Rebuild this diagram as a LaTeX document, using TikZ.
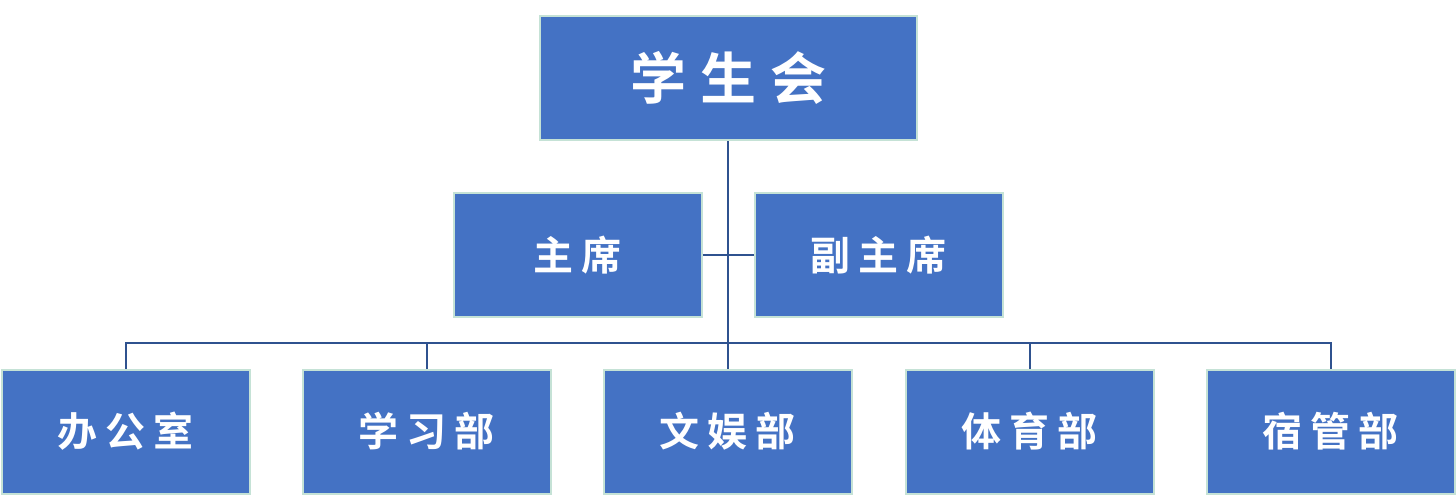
\documentclass[tikz,border=0pt]{standalone}
\usepackage{fontspec}
\newfontfamily\cjk{Noto Sans CJK SC}[BoldFont={Noto Sans CJK SC Bold}]
\definecolor{boxfill}{HTML}{4472C4}
\definecolor{boxedge}{HTML}{C5E2D6}
\definecolor{linkcol}{HTML}{2F528F}
\newcommand{\gap}{\hspace{8pt}}
\begin{document}
\begin{tikzpicture}[x=1pt,y=-1pt,
  orgbox/.style={draw=boxedge, line width=2pt, fill=boxfill, text=white,
    minimum width=248pt, minimum height=124pt, inner sep=0pt,
    font=\cjk\bfseries\fontsize{40}{44}\selectfont},
  topbox/.style={orgbox, minimum width=377pt,
    font=\cjk\bfseries\fontsize{56}{60}\selectfont},
  link/.style={draw=linkcol, line width=2pt}]
\useasboundingbox (0,0) rectangle (1456,503);
\node[topbox] (top) at (728,78) {学\hspace{14pt}生\hspace{14pt}会};
\node[orgbox] (zx) at (577.5,255) {主\gap 席};
\node[orgbox] (fzx) at (878.5,255) {副\gap 主\gap 席};
\node[orgbox] (b1) at (125.5,431.5) {办\gap 公\gap 室};
\node[orgbox] (b2) at (426.5,431.5) {学\gap 习\gap 部};
\node[orgbox] (b3) at (727.5,431.5) {文\gap 娱\gap 部};
\node[orgbox] (b4) at (1029.5,431.5) {体\gap 育\gap 部};
\node[orgbox] (b5) at (1330.5,431.5) {宿\gap 管\gap 部};
\coordinate (bus) at (728,343);
\draw[link] (top.south) -- (top.south |- b3.north);
\draw[link] (zx.east) -- (fzx.west);
\draw[link] (b1.north) -- (b1.north |- bus) -- (b5.north |- bus) -- (b5.north);
\foreach \n in {b2,b4}{\draw[link] (\n.north) -- (\n.north |- bus);}
\end{tikzpicture}
\end{document}
